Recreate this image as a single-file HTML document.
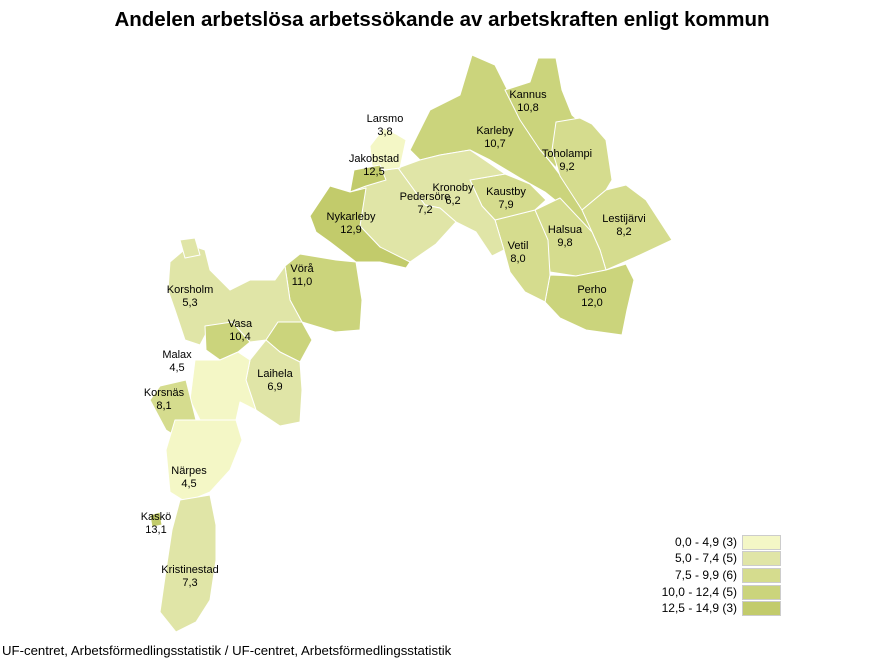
<!DOCTYPE html>
<html><head><meta charset="utf-8"><style>
body{margin:0;background:#fff;width:880px;height:660px;overflow:hidden}
svg{display:block}
text{font-family:"Liberation Sans",sans-serif}
</style></head><body>
<svg width="880" height="660" viewBox="0 0 880 660">
<text x="442" y="26" font-size="20.5" font-weight="bold" text-anchor="middle">Andelen arbetslösa arbetssökande av arbetskraften enligt kommun</text>
<g stroke="#fff" stroke-width="1" stroke-linejoin="round">
<polygon fill="#cbd47c" points="410,150 430,110 460,95 472,55 495,65 505,85 515,105 530,135 560,175 590,205 605,222 592,232 570,212 545,192 520,178 490,160 470,150 440,155 420,160"/>
<polygon fill="#cbd47c" points="505,90 530,82 538,58 556,58 562,90 572,115 582,124 560,138 556,168 540,150 520,120"/>
<polygon fill="#d5dc8e" points="556,122 580,118 592,124 606,140 612,180 606,190 582,210 560,176 552,150"/>
<polygon fill="#d5dc8e" points="582,210 606,190 626,185 646,200 672,240 640,255 606,270 600,250 592,232"/>
<polygon fill="#d5dc8e" points="535,210 560,198 592,232 600,250 606,270 576,276 550,272 546,240"/>
<polygon fill="#cbd47c" points="550,275 576,276 606,270 626,264 634,280 627,310 622,335 586,330 560,318 545,302"/>
<polygon fill="#d5dc8e" points="495,220 535,210 548,240 550,275 545,302 525,292 510,272 504,250"/>
<polygon fill="#d5dc8e" points="470,180 505,174 530,184 546,200 535,210 495,220 482,206"/>
<polygon fill="#e0e5a7" points="398,168 420,160 440,155 470,150 505,174 470,180 482,206 495,220 504,250 492,256 476,232 456,222 440,208 425,205"/>
<polygon fill="#e0e5a7" points="358,182 385,170 398,168 425,205 440,208 456,222 436,244 410,262 404,268 380,247 360,226"/>
<polygon fill="#f4f7c6" points="370,146 384,128 396,134 406,140 400,168 385,170 372,166"/>
<polygon fill="#c2cb6b" points="354,170 380,165 386,180 366,186 350,192"/>
<polygon fill="#c2cb6b" points="310,216 330,186 350,192 366,188 360,226 380,247 410,262 406,268 380,262 356,262 330,242 316,232"/>
<polygon fill="#cbd47c" points="285,266 300,254 336,260 356,262 362,300 360,330 335,332 302,322 290,300"/>
<polygon fill="#e0e5a7" points="170,262 190,245 205,250 210,270 230,290 250,280 275,280 285,266 290,300 302,322 278,322 266,340 250,342 232,322 210,326 200,345 185,340 175,310 168,290"/>
<polygon fill="#e0e5a7" points="180,240 195,238 200,255 185,258"/>
<polygon fill="#cbd47c" points="278,322 302,322 312,340 300,362 280,352 266,340"/>
<polygon fill="#cbd47c" points="205,326 232,322 250,342 238,352 220,360 206,350"/>
<polygon fill="#e0e5a7" points="250,360 266,340 280,352 300,362 302,390 300,422 280,426 256,410 246,380"/>
<polygon fill="#f4f7c6" points="195,360 220,360 238,352 250,360 246,380 256,410 240,402 236,420 200,420 190,400"/>
<polygon fill="#d5dc8e" points="160,386 186,380 196,420 182,440 166,430 150,400"/>
<polygon fill="#f4f7c6" points="175,420 236,420 242,440 230,470 210,492 186,502 170,492 166,450"/>
<polygon fill="#c2cb6b" points="150,515 160,512 162,525 152,527"/>
<polygon fill="#e0e5a7" points="180,500 210,495 216,525 216,560 210,600 196,622 176,632 160,612 166,570 172,530"/>
</g>
<g font-size="11" text-anchor="middle" fill="#000">
<text x="385" y="122">Larsmo</text><text x="385" y="135">3,8</text>
<text x="374" y="162">Jakobstad</text><text x="374" y="175">12,5</text>
<text x="528" y="98">Kannus</text><text x="528" y="111">10,8</text>
<text x="495" y="134">Karleby</text><text x="495" y="147">10,7</text>
<text x="567" y="157">Toholampi</text><text x="567" y="170">9,2</text>
<text x="425" y="200">Pedersöre</text><text x="425" y="213">7,2</text>
<text x="453" y="191">Kronoby</text><text x="453" y="204">6,2</text>
<text x="506" y="195">Kaustby</text><text x="506" y="208">7,9</text>
<text x="624" y="222">Lestijärvi</text><text x="624" y="235">8,2</text>
<text x="351" y="220">Nykarleby</text><text x="351" y="233">12,9</text>
<text x="565" y="233">Halsua</text><text x="565" y="246">9,8</text>
<text x="518" y="249">Vetil</text><text x="518" y="262">8,0</text>
<text x="302" y="272">Vörå</text><text x="302" y="285">11,0</text>
<text x="592" y="293">Perho</text><text x="592" y="306">12,0</text>
<text x="190" y="293">Korsholm</text><text x="190" y="306">5,3</text>
<text x="240" y="327">Vasa</text><text x="240" y="340">10,4</text>
<text x="177" y="358">Malax</text><text x="177" y="371">4,5</text>
<text x="275" y="377">Laihela</text><text x="275" y="390">6,9</text>
<text x="164" y="396">Korsnäs</text><text x="164" y="409">8,1</text>
<text x="189" y="474">Närpes</text><text x="189" y="487">4,5</text>
<text x="156" y="520">Kaskö</text><text x="156" y="533">13,1</text>
<text x="190" y="573">Kristinestad</text><text x="190" y="586">7,3</text>
</g>
<g font-size="12" text-anchor="end">
<text x="737" y="546">0,0 - 4,9 (3)</text>
<text x="737" y="562">5,0 - 7,4 (5)</text>
<text x="737" y="579">7,5 - 9,9 (6)</text>
<text x="737" y="596">10,0 - 12,4 (5)</text>
<text x="737" y="612">12,5 - 14,9 (3)</text>
</g>
<g stroke="#ccc" stroke-width="1">
<rect x="742.5" y="535.5" width="38" height="14" fill="#f4f7c6"/>
<rect x="742.5" y="551.5" width="38" height="14" fill="#e0e5a7"/>
<rect x="742.5" y="568.5" width="38" height="14" fill="#d5dc8e"/>
<rect x="742.5" y="585.5" width="38" height="14" fill="#cbd47c"/>
<rect x="742.5" y="601.5" width="38" height="14" fill="#c2cb6b"/>
</g>
<text x="2" y="655" font-size="13.2">UF-centret, Arbetsförmedlingsstatistik / UF-centret, Arbetsförmedlingsstatistik</text>
</svg>
</body></html>
